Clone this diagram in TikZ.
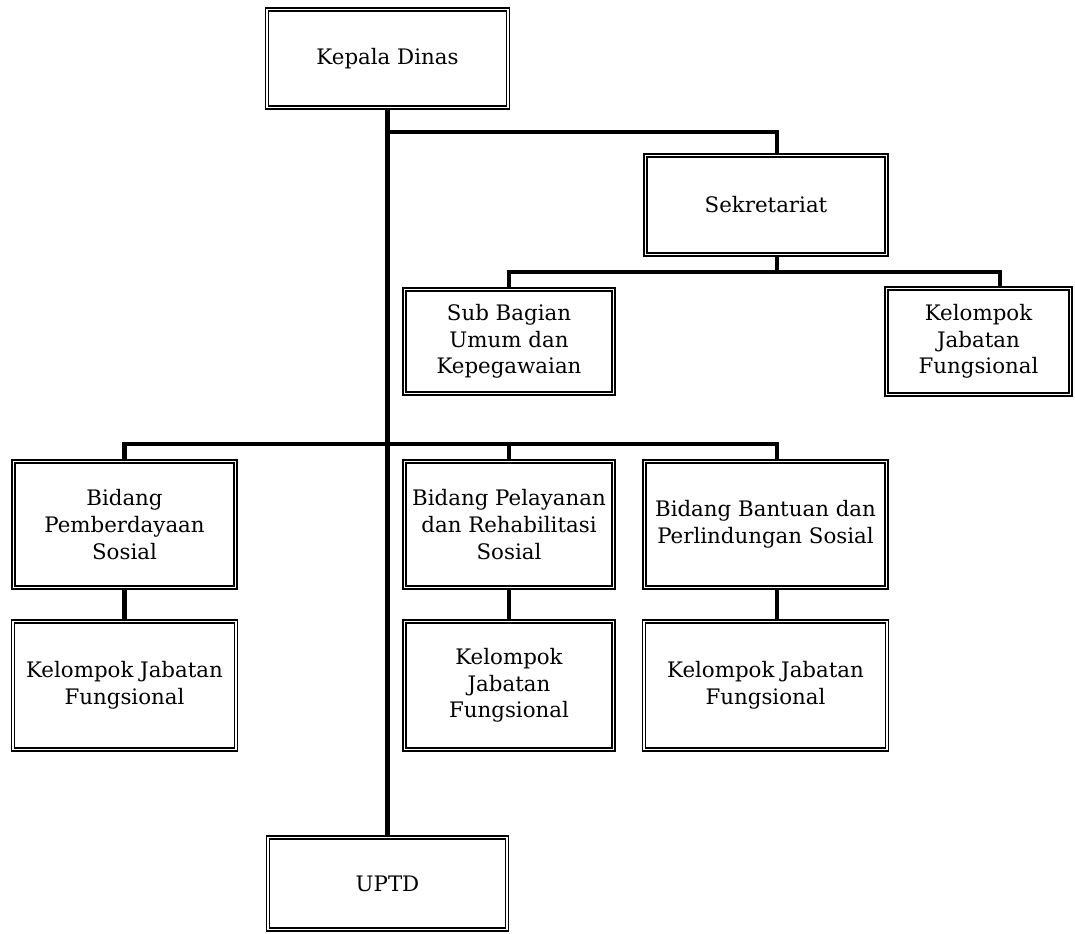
\documentclass[tikz,border=0pt]{standalone}
\usepackage{fontspec}
\setmainfont{DejaVu Serif}
\usetikzlibrary{backgrounds}
\begin{document}
\begin{tikzpicture}[x=0.75pt,y=-0.75pt,
  box/.style 2 args={draw, line width=1.1pt, double distance=1.2pt, fill=white,
    align=center, inner sep=0pt, font=\fontsize{16}{20}\selectfont,
    minimum width=#1*0.75pt, minimum height=#2*0.75pt},
  conn/.style={line width=3.6pt, line join=miter}]
\useasboundingbox (0,0) rectangle (1075,933);

% units of the organisation
\node[box={241}{98}]  (kepala) at (387.5,58.5)  {Kepala Dinas};
\node[box={241}{99}]  (sekr)   at (766,205)     {Sekretariat};
\node[box={209}{104}] (sub)    at (509,341.5)   {Sub Bagian\\Umum dan\\Kepegawaian};
\node[box={184}{106}] (kjfa)   at (978.5,341.5) {Kelompok\\Jabatan\\Fungsional};
\node[box={222}{126}] (bps)    at (124.5,524.5) {Bidang\\Pemberdayaan\\Sosial};
\node[box={209}{126}] (bpr)    at (509,524.5)   {Bidang Pelayanan\\dan Rehabilitasi\\Sosial};
\node[box={242}{126}] (bbp)    at (765.5,524.5) {Bidang Bantuan dan\\Perlindungan Sosial};
\node[box={223}{128}] (kjfb)   at (124.5,685.5) {Kelompok Jabatan\\Fungsional};
\node[box={209}{128}] (kjfc)   at (509,685.5)   {Kelompok\\Jabatan\\Fungsional};
\node[box={243}{128}] (kjfd)   at (765.5,685.5) {Kelompok Jabatan\\Fungsional};
\node[box={239}{92}]  (uptd)   at (387.5,883.5) {UPTD};

% connecting lines
\begin{scope}[on background layer]
\coordinate (jtop) at (387.5,132);
\coordinate (jsek) at (777,272);
\coordinate (jbid) at (387.5,444);
\draw[conn] (kepala.south) -- (uptd.north);
\draw[conn] (jtop) -| ([xshift=8.25pt]sekr.north);
\draw[conn] ([xshift=8.25pt]sekr.south) -- (jsek);
\draw[conn] (sub.north) |- (jsek) -| ([xshift=16.125pt]kjfa.north);
\draw[conn] (bps.north) |- (jbid);
\draw[conn] (jbid) -| ([xshift=8.625pt]bbp.north);
\draw[conn] (bpr.north) -- (bpr.north |- jbid);
\draw[conn] (bps.south) -- (kjfb.north);
\draw[conn] (bpr.south) -- (kjfc.north);
\draw[conn] ([xshift=8.625pt]bbp.south) -- ([xshift=8.625pt]kjfd.north);
\end{scope}
\end{tikzpicture}
\end{document}
